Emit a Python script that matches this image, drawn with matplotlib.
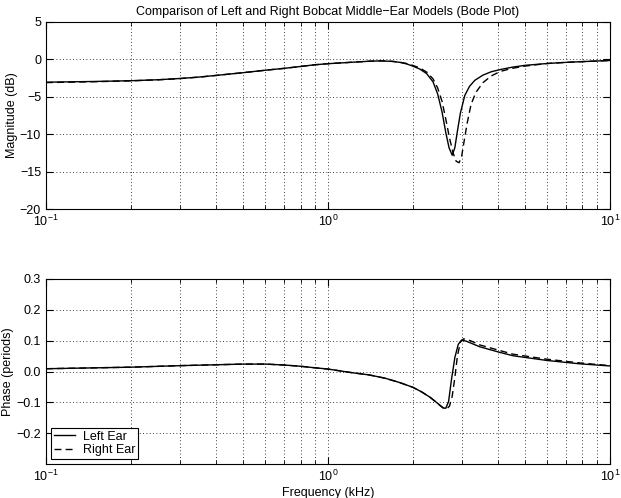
import matplotlib
matplotlib.use('Agg')
import matplotlib.pyplot as plt
from matplotlib.ticker import LogLocator, NullFormatter

plt.rcParams['font.family'] = ['Liberation Sans', 'DejaVu Sans']

# Frequencies in kHz, magnitudes in dB, phases in periods
f_mag_left = [0.1, 0.15, 0.2, 0.25, 0.3, 0.35, 0.4, 0.5, 0.6, 0.7, 0.8, 0.9, 1.0,
              1.2, 1.4, 1.55, 1.7, 1.8, 1.9, 2.0, 2.12, 2.24, 2.36, 2.45, 2.54,
              2.62, 2.69, 2.76, 2.82, 2.88, 2.95, 3.06, 3.18, 3.32, 3.55, 3.8,
              4.1, 4.5, 5.0, 6.0, 7.0, 8.0, 9.0, 10.0]
mag_left = [-3.05, -2.95, -2.85, -2.72, -2.55, -2.36, -2.15, -1.78, -1.45, -1.2,
            -0.95, -0.72, -0.58, -0.4, -0.25, -0.2, -0.28, -0.4, -0.6, -0.9,
            -1.3, -1.9, -3.0, -4.6, -7.0, -9.8, -11.8, -12.8, -11.8, -9.6, -7.2,
            -4.8, -3.6, -2.8, -2.1, -1.65, -1.35, -1.05, -0.8, -0.55, -0.4, -0.3,
            -0.22, -0.15]

f_mag_right = [0.1, 0.15, 0.2, 0.25, 0.3, 0.35, 0.4, 0.5, 0.6, 0.7, 0.8, 0.9, 1.0,
               1.2, 1.4, 1.55, 1.7, 1.8, 1.9, 2.0, 2.12, 2.24, 2.36, 2.45, 2.54,
               2.62, 2.70, 2.78, 2.85, 2.92, 2.98, 3.04, 3.12, 3.22, 3.35, 3.55,
               3.8, 4.1, 4.5, 5.0, 6.0, 7.0, 8.0, 10.0]
mag_right = [-3.1, -2.98, -2.87, -2.73, -2.56, -2.37, -2.15, -1.78, -1.45, -1.2,
             -0.95, -0.72, -0.58, -0.4, -0.25, -0.2, -0.27, -0.38, -0.55, -0.8,
             -1.15, -1.7, -2.6, -3.8, -5.6, -8.0, -10.5, -12.5, -13.6, -13.8,
             -13.0, -11.0, -8.5, -6.0, -4.4, -3.1, -2.2, -1.6, -1.2, -0.9, -0.55,
             -0.4, -0.3, -0.15]

f_ph_left = [0.1, 0.2, 0.3, 0.5, 0.6, 0.7, 0.8, 0.9, 1.0, 1.2, 1.4, 1.6, 1.8,
             2.0, 2.15, 2.3, 2.42, 2.5, 2.56, 2.62, 2.68, 2.74, 2.82, 2.90, 2.98,
             3.1, 3.46, 4.07, 4.54, 5.96, 7.8, 10.0]
ph_left = [0.009, 0.014, 0.019, 0.024, 0.024, 0.021, 0.017, 0.012, 0.008, -0.003,
           -0.011, -0.022, -0.036, -0.051, -0.066, -0.083, -0.099, -0.11, -0.118,
           -0.119, -0.097, -0.03, 0.045, 0.088, 0.102, 0.098, 0.08, 0.062, 0.051,
           0.036, 0.025, 0.018]

f_ph_right = [0.1, 0.2, 0.3, 0.5, 0.6, 0.7, 0.8, 0.9, 1.0, 1.2, 1.4, 1.6, 1.8,
              2.0, 2.15, 2.3, 2.42, 2.5, 2.56, 2.64, 2.70, 2.76, 2.82, 2.88, 2.95,
              3.03, 3.2, 3.46, 4.07, 4.54, 5.96, 7.8, 10.0]
ph_right = [0.009, 0.014, 0.019, 0.024, 0.024, 0.021, 0.017, 0.012, 0.008, -0.003,
            -0.011, -0.022, -0.036, -0.051, -0.066, -0.083, -0.099, -0.11, -0.117,
            -0.121, -0.112, -0.08, -0.02, 0.05, 0.095, 0.106, 0.1, 0.086, 0.068,
            0.056, 0.04, 0.028, 0.019]

mag_ticks = [-20, -15, -10, -5, 0, 5]
ph_ticks = [-0.2, -0.1, 0, 0.1, 0.2, 0.3]

fig = plt.figure(figsize=(6.21, 4.98), dpi=100)
ax1 = fig.add_axes([0.074, 0.580, 0.908, 0.376])
ax2 = fig.add_axes([0.074, 0.068, 0.908, 0.372])


def style(ax):
    ax.set_xscale('log')
    ax.set_xlim(0.1, 10)
    ax.xaxis.set_major_locator(LogLocator(base=10))
    ax.xaxis.set_minor_locator(LogLocator(base=10, subs=range(2, 10)))
    ax.xaxis.set_minor_formatter(NullFormatter())
    ax.grid(True, which='both', axis='x', linestyle=(0, (1, 3)), color='k', linewidth=0.6)
    ax.grid(True, which='major', axis='y', linestyle=(0, (1, 3)), color='k', linewidth=0.6)
    ax.tick_params(which='both', direction='in', top=True, right=True, labelsize=9)
    ax.tick_params(which='major', length=5)
    ax.tick_params(which='minor', length=3)
    for s in ax.spines.values():
        s.set_linewidth(0.8)


style(ax1)
ax1.plot(f_mag_left, mag_left, 'k-', lw=1.0)
ax1.plot(f_mag_right, mag_right, 'k--', lw=1.0, dashes=(5, 3))
ax1.set_ylim(-20, 5)
ax1.set_yticks(mag_ticks)
ax1.set_ylabel('Magnitude (dB)', fontsize=9)
ax1.yaxis.set_label_coords(-0.050, 0.5)
ax1.set_title('Comparison of Left and Right Bobcat Middle\u2212Ear Models (Bode Plot)',
              fontsize=9, pad=5)

style(ax2)
ax2.plot(f_ph_left, ph_left, 'k-', lw=1.0, label='Left Ear')
ax2.plot(f_ph_right, ph_right, 'k--', lw=1.0, dashes=(5, 3), label='Right Ear')
ax2.set_ylim(-0.3, 0.3)
ax2.set_yticks(ph_ticks)
ax2.set_ylabel('Phase (periods)', fontsize=9)
ax2.yaxis.set_label_coords(-0.057, 0.5)
ax2.set_xlabel('Frequency (kHz)', fontsize=9, labelpad=2)
leg = ax2.legend(loc='lower left', fontsize=9, fancybox=False, framealpha=1,
                 edgecolor='k', borderaxespad=0.4, handlelength=1.7,
                 handletextpad=0.6, labelspacing=0.1, borderpad=0.25)
leg.get_frame().set_linewidth(0.8)

fig.savefig('out.png', dpi=100)
